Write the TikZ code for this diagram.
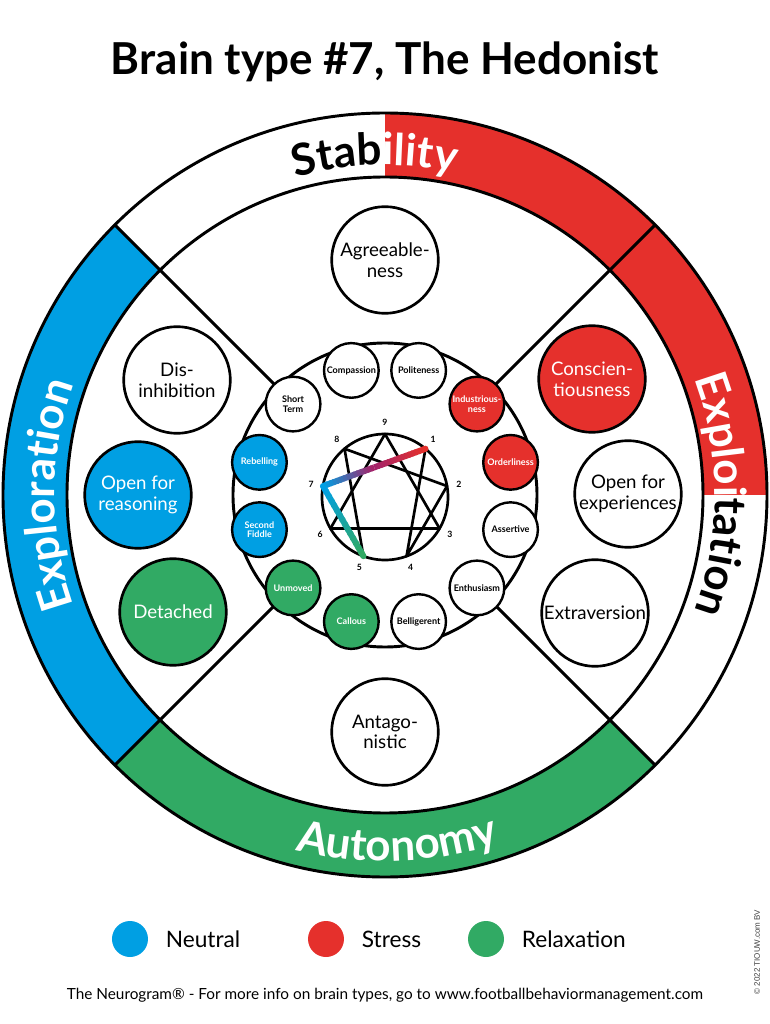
\documentclass[tikz,border=0pt]{standalone}
\usepackage{fontspec}
\setmainfont{Lato}
\setsansfont{Liberation Sans}
\definecolor{neublue}{RGB}{0,159,227}
\definecolor{neured}{RGB}{229,48,44}
\definecolor{neugreen}{RGB}{49,170,100}
\definecolor{neupurple}{RGB}{165,35,105}
\usetikzlibrary{positioning, calc, decorations.text}

\tikzset{
  ring/.style={draw=black, line width=2.2pt},
  ennea/.style={draw=black, line width=2pt, line join=round},
  trait/.style={circle, draw=black, line width=2pt, fill=white, minimum size=80pt,
    inner sep=0pt, align=center, font=\fontsize{14}{15.5}\selectfont},
  facet/.style={circle, draw=black, line width=1.8pt, fill=white, minimum size=41pt,
    inner sep=0pt, align=center, font=\bfseries\fontsize{6.8}{7.2}\selectfont},
  ennum/.style={inner sep=0pt, font=\bfseries\fontsize{6.5}{7}\selectfont},
  legdot/.style={circle, minimum size=27pt, inner sep=0pt},
  legtext/.style={inner sep=0pt, font=\fontsize{17}{19}\selectfont},
  bandtext/.style={decorate, decoration={text along path, text align=center, text={#1}}}
}
\newcommand{\bandfont}{\bfseries\fontsize{33}{36}\selectfont}

\begin{document}
\begin{tikzpicture}[x=0.75pt, y=0.75pt]
  \useasboundingbox (-385,-529) rectangle (385,495);

  % coloured parts of the outer band
  \fill[neured] (0:318) arc[start angle=0, end angle=90, radius=318]
    -- (90:382) arc[start angle=90, end angle=0, radius=382] -- cycle;
  \fill[neublue] (135:318) arc[start angle=135, end angle=225, radius=318]
    -- (225:382) arc[start angle=225, end angle=135, radius=382] -- cycle;
  \fill[neugreen] (225:318) arc[start angle=225, end angle=315, radius=318]
    -- (315:382) arc[start angle=315, end angle=225, radius=382] -- cycle;
  \draw[ring] (0,0) circle[radius=382];
  \draw[ring] (0,0) circle[radius=318];
  \draw[ring] (0,0) circle[radius=152];
  \foreach \a in {45,135,225,315} {
    \coordinate (mid\a) at (\a:152);
    \coordinate (rim\a) at (\a:382);
    \draw[ring] (mid\a) -- (rim\a);
  }

  % enneagram
  \begin{scope}[shift={(0,-2)}]
    \draw[ennea] (0,0) circle[radius=63];
    \foreach \n/\a in {9/90,1/50,2/10,3/-30,4/-70,5/-110,6/-150,7/170,8/130} {
      \coordinate (p\n) at (\a:63);
      \node[ennum] (num\n) at (\a:75) {\n};
    }
  \end{scope}
  \draw[ennea] (p9) -- (p3) -- (p6) -- cycle;
  \draw[ennea] (p1) -- (p4) -- (p2) -- (p8) -- (p5);
  \coordinate (m71) at ($(p7)!0.5!(p1)$);
  \foreach \i [evaluate=\i as \s using \i/15, evaluate=\i as \t using {min((\i+1.4)/15,1)},
      evaluate=\i as \c using 100*\i/14] in {0,...,14} {
    \draw[line width=4.5pt, neupurple!\c!neublue] ($(p7)!\s!(m71)$) -- ($(p7)!\t!(m71)$);
    \draw[line width=4.5pt, neured!\c!neupurple] ($(m71)!\s!(p1)$) -- ($(m71)!\t!(p1)$);
    \draw[line width=4.5pt, neugreen!\c!neublue] ($(p7)!\s!(p5)$) -- ($(p7)!\t!(p5)$);
  }
  \fill[neured] (p1) circle[radius=3];
  \fill[neugreen] (p5) circle[radius=3];
  \fill[neublue] (p7) circle[radius=3];

  % facets on the middle ring
  \foreach \nm/\a/\fc/\tc/\txt in {
      compassion/105/white/black/Compassion, politeness/75/white/black/Politeness,
      industrious/45/neured/white/{Industrious-\\ness}, orderliness/15/neured/white/Orderliness,
      assertive/-15/white/black/Assertive, enthusiasm/-45/white/black/Enthusiasm,
      belligerent/-75/white/black/Belligerent, callous/-105/neugreen/white/Callous,
      unmoved/-135/neugreen/white/Unmoved, fiddle/-165/neublue/white/{Second\\Fiddle},
      rebelling/165/neublue/white/Rebelling, shortterm/135/white/black/{Short\\Term}}
    \node[facet, fill=\fc, text=\tc] (\nm) at ($(0,-1)+(\a:130)$) {\txt};

  % traits
  \node[trait] (agree) at (0,235) {Agreeable-\\ness};
  \node[trait, fill=neured, text=white] (consc) at (207,116) {Conscien-\\tiousness};
  \node[trait] (openexp) at (243,1) {Open for\\experiences};
  \node[trait] (extra) at (210,-118) {Extraversion};
  \node[trait] (antago) at (0,-237) {Antago-\\nistic};
  \node[trait, fill=neugreen, text=white] (detached) at (-212,-117) {Detached};
  \node[trait, fill=neublue, text=white] (openreas) at (-247,0) {Open for\\reasoning};
  \node[trait] (disinh) at (-208,115) {Dis-\\inhibition};

  % band labels
  \path[bandtext={|\bandfont\color{black}|Stab|\bandfont\color{white}|ility}]
    (151.7:330) arc[start angle=151.7, end angle=31.7, radius=330];
  \path[bandtext={|\bandfont\color{white}|Exploi|\bandfont\color{black}|tation}]
    (60:330) arc[start angle=60, end angle=-60, radius=330];
  \path[bandtext={|\bandfont\color{white}|Exploration}]
    (240:330) arc[start angle=240, end angle=120, radius=330];
  \path[bandtext={|\bandfont\color{white}|Autonomy}]
    (-148:366) arc[start angle=-148, end angle=-28, radius=366];

  % title, legend and footer
  \node[anchor=base, inner sep=0pt, font=\bfseries\fontsize{33}{36}\selectfont] (title)
    at (0,420) {Brain type \#7, The Hedonist};
  \node[legdot, fill=neublue] (dotneutral) at (-255,-444) {};
  \node[legtext, right=13pt of dotneutral] (txtneutral) {Neutral};
  \node[legdot, fill=neured] (dotstress) at (-59,-444) {};
  \node[legtext, right=13pt of dotstress] (txtstress) {Stress};
  \node[legdot, fill=neugreen] (dotrelax) at (101,-444) {};
  \node[legtext, right=13pt of dotrelax] (txtrelax) {Relaxation};
  \node[inner sep=0pt, font=\fontsize{11.5}{13}\selectfont] (footer) at (0,-500)
    {The Neurogram® - For more info on brain types, go to www.footballbehaviormanagement.com};
  \node[inner sep=0pt, rotate=90, text=black!75, font=\sffamily\fontsize{6}{7}\selectfont]
    (copyright) at (372,-457) {© 2022 TIOUW.com BV};
\end{tikzpicture}
\end{document}
